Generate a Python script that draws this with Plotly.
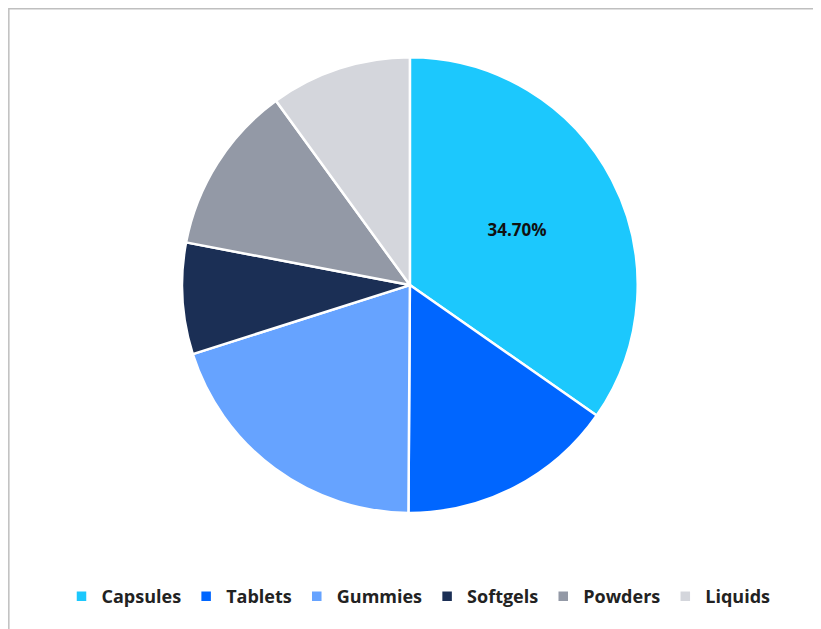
import plotly.graph_objects as go

labels = ["Capsules", "Tablets", "Gummies", "Softgels", "Powders", "Liquids"]
values = [34.7, 15.4, 20.0, 7.9, 12.0, 10.0]
colors = ["#1CC8FD", "#0066FF", "#66A3FF", "#1B2F55", "#9399A6", "#D4D6DC"]
shown = ["34.70%", "", "", "", "", ""]

fig = go.Figure(go.Pie(
    labels=labels,
    values=values,
    sort=False,
    direction="clockwise",
    rotation=0,
    marker=dict(colors=colors, line=dict(color="white", width=2.5)),
    text=shown,
    texttemplate="%{text}",
    textposition="inside",
    insidetextorientation="horizontal",
    textfont=dict(family="Open Sans", size=17, color="#111111", weight="bold"),
    domain=dict(x=[0.212, 0.767], y=[0.197, 0.922]),
    hoverinfo="label+percent",
))
fig.update_layout(
    width=821, height=629,
    margin=dict(l=0, r=0, t=0, b=0),
    paper_bgcolor="white",
    showlegend=True,
    legend=dict(
        orientation="h", x=0.5, xanchor="center", y=0.035, yanchor="bottom",
        font=dict(family="Open Sans", size=18, color="#222222", weight="bold"),
        itemwidth=30,
    ),
    shapes=[dict(type="rect", xref="paper", yref="paper", x0=0.001, y0=0.001,
                 x1=0.999, y1=0.999, line=dict(color="#BFBFBF", width=1.5))],
)
fig.write_html("out.html")
